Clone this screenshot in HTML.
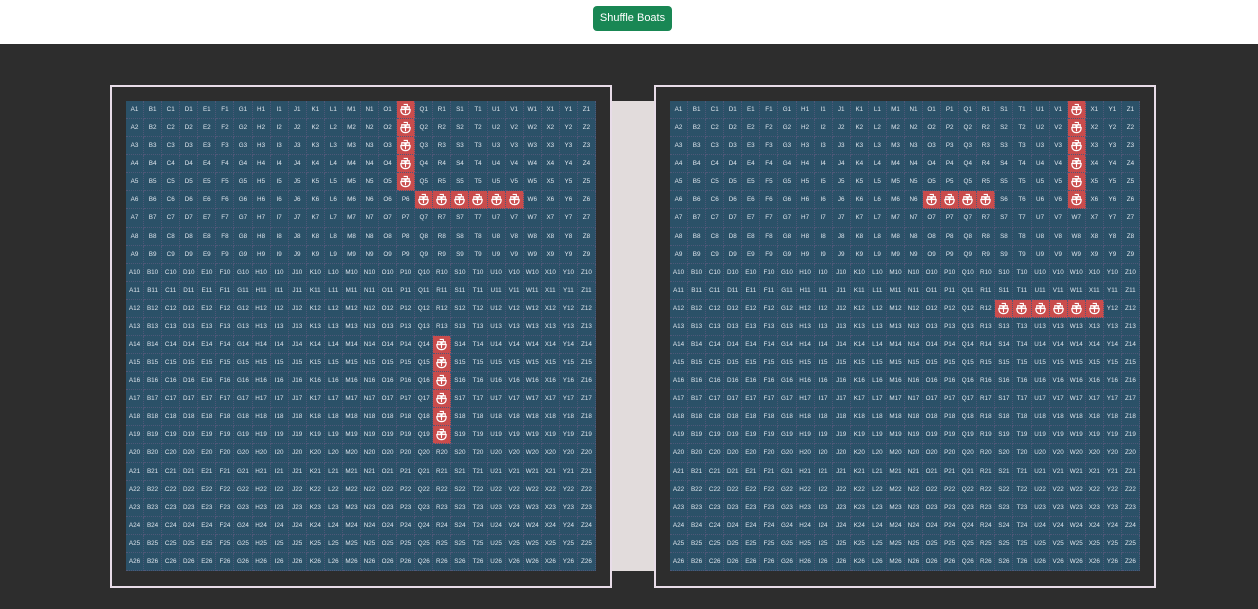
<!DOCTYPE html>
<html><head><meta charset="utf-8"><style>
body{margin:0;width:1258px;height:609px;background:#2d2d2d;font-family:"Liberation Sans",sans-serif;position:relative;overflow:hidden}
#hdr{position:absolute;left:0;top:0;width:1258px;height:44px;background:#fff}
#btn{position:absolute;left:593px;top:6px;width:79px;height:25px;background:#198754;border-radius:4px;color:#fff;font-size:11px;line-height:25px;text-align:center;border:0;padding:0}
.frame{position:absolute;top:85px;width:498px;height:499px;border:2px solid #e8dce8}
#band{position:absolute;left:612px;top:101px;width:42px;height:470px;background:#e2dcdc}
.grid{position:absolute;top:101px;width:470px;height:470px;background:#2b5168;display:grid;grid-template-columns:repeat(26,1fr);grid-template-rows:repeat(26,1fr)}
.cell{border-right:1px dotted #4e5878;border-bottom:1px dotted #4e5878;color:#dfe6ee;font-size:6.3px;display:flex;align-items:center;justify-content:center;box-sizing:border-box}
.ship{background:#c94c4c}
</style></head><body>
<div id="hdr"></div>
<button id="btn">Shuffle Boats</button>
<div class="frame" style="left:110px"></div>
<div class="frame" style="left:654px"></div>
<div id="band"></div>
<div class="grid" id="g1" style="left:126px"></div>
<div class="grid" id="g2" style="left:670px"></div>
<script>
const cols="ABCDEFGHIJKLMNOPQRSTUVWXYZ";
const leftShips=["P1","P2","P3","P4","P5","Q6","R6","S6","T6","U6","V6","R14","R15","R16","R17","R18","R19"];
const rightShips=["W1","W2","W3","W4","W5","W6","O6","P6","Q6","R6","S12","T12","U12","V12","W12","X12"];
const icon='<svg width="13" height="13" viewBox="0 0 14 14"><path d="M2 7 Q2 12.5 7 12.5 Q12 12.5 12 7 Z M3 7 V4 H11 V7" fill="none" stroke="#fff" stroke-width="1.3"/><path d="M7 4 V11 M5 5.5 H9 M5 1.5 H9 V4" fill="none" stroke="#fff" stroke-width="1.2"/></svg>';
function build(id,ships){
  const g=document.getElementById(id);
  for(let r=1;r<=26;r++)for(let c=0;c<26;c++){
    const n=cols[c]+r;const d=document.createElement('div');
    d.className='cell';
    
    
    if(ships.includes(n)){d.classList.add('ship');d.innerHTML=icon;}else d.textContent=n;
    g.appendChild(d);
  }
}
build('g1',leftShips);build('g2',rightShips);
</script>
</body></html>
